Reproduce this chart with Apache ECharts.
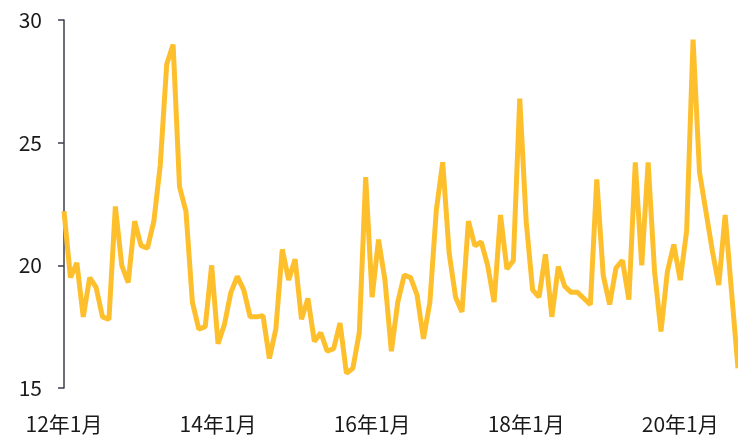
<!DOCTYPE html>
<html>
<head>
<meta charset="utf-8">
<script src="https://cdn.jsdelivr.net/npm/echarts@6/dist/echarts.min.js"></script>
<style>
  html, body { margin: 0; padding: 0; background: #fff; }
  #chart { width: 738px; height: 437px; }
</style>
</head>
<body>
<div id="chart"></div>
<script>
// Monthly values, one array per year
var v2012 = [22.2, 19.5, 20.1, 17.9, 19.5, 19.1, 17.9, 17.8, 22.4, 20.0, 19.3, 21.8];
var v2013 = [20.8, 20.7, 21.8, 24.1, 28.2, 29.0, 23.2, 22.2, 18.5, 17.4, 17.5, 20.0];
var v2014 = [16.8, 17.6, 18.9, 19.55, 19.0, 17.9, 17.9, 17.95, 16.2, 17.4, 20.65, 19.4];
var v2015 = [20.25, 17.8, 18.65, 16.9, 17.25, 16.5, 16.6, 17.65, 15.6, 15.8, 17.25, 23.6];
var v2016 = [18.7, 21.05, 19.4, 16.5, 18.5, 19.6, 19.5, 18.8, 17.0, 18.5, 22.25, 24.2];
var v2017 = [20.5, 18.7, 18.1, 21.8, 20.8, 20.95, 20.0, 18.5, 22.05, 19.85, 20.2, 26.8];
var v2018 = [21.8, 19.0, 18.7, 20.45, 17.9, 19.95, 19.15, 18.9, 18.9, 18.65, 18.4, 23.5];
var v2019 = [19.6, 18.4, 19.9, 20.2, 18.6, 24.2, 20.0, 24.2, 19.75, 17.3, 19.75, 20.85];
var v2020 = [19.4, 21.4, 29.2, 23.8, 22.2, 20.6, 19.2, 22.05, 18.9, 15.8];

var years = [12, 13, 14, 15, 16, 17, 18, 19, 20];
var yearValues = [v2012, v2013, v2014, v2015, v2016, v2017, v2018, v2019, v2020];

// Category labels like "12年1月"
var months = [];
var values = [];
years.forEach(function (y, i) {
	yearValues[i].forEach(function (v, m) {
		months.push(y + '年' + (m + 1) + '月');
		values.push(v);
	});
});

var chart = echarts.init(document.getElementById('chart'));

var labelFont = 'Noto Sans CJK SC, sans-serif';

chart.setOption({
	animation: false,
	grid: { left: 64, top: 20, right: 0, bottom: 49 },
	xAxis: {
		type: 'category',
		data: months,
		boundaryGap: false,
		axisLine: { show: false },
		axisTick: { show: false },
		axisLabel: {
			interval: 23,
			margin: 26,
			fontSize: 21,
			color: '#1a1a1a',
			fontFamily: labelFont
		}
	},
	yAxis: {
		type: 'value',
		min: 15,
		max: 30,
		interval: 5,
		splitLine: { show: false },
		axisLine: { show: true, lineStyle: { color: '#3b3f4a', width: 1.5 } },
		axisTick: { show: true, length: 6, lineStyle: { color: '#3b3f4a', width: 1.5 } },
		axisLabel: {
			margin: 22,
			fontSize: 21,
			color: '#1a1a1a',
			fontFamily: labelFont
		}
	},
	series: [{
		type: 'line',
		data: values,
		symbol: 'none',
		lineStyle: { color: '#FEBF2D', width: 5 }
	}]
});
</script>
</body>
</html>
